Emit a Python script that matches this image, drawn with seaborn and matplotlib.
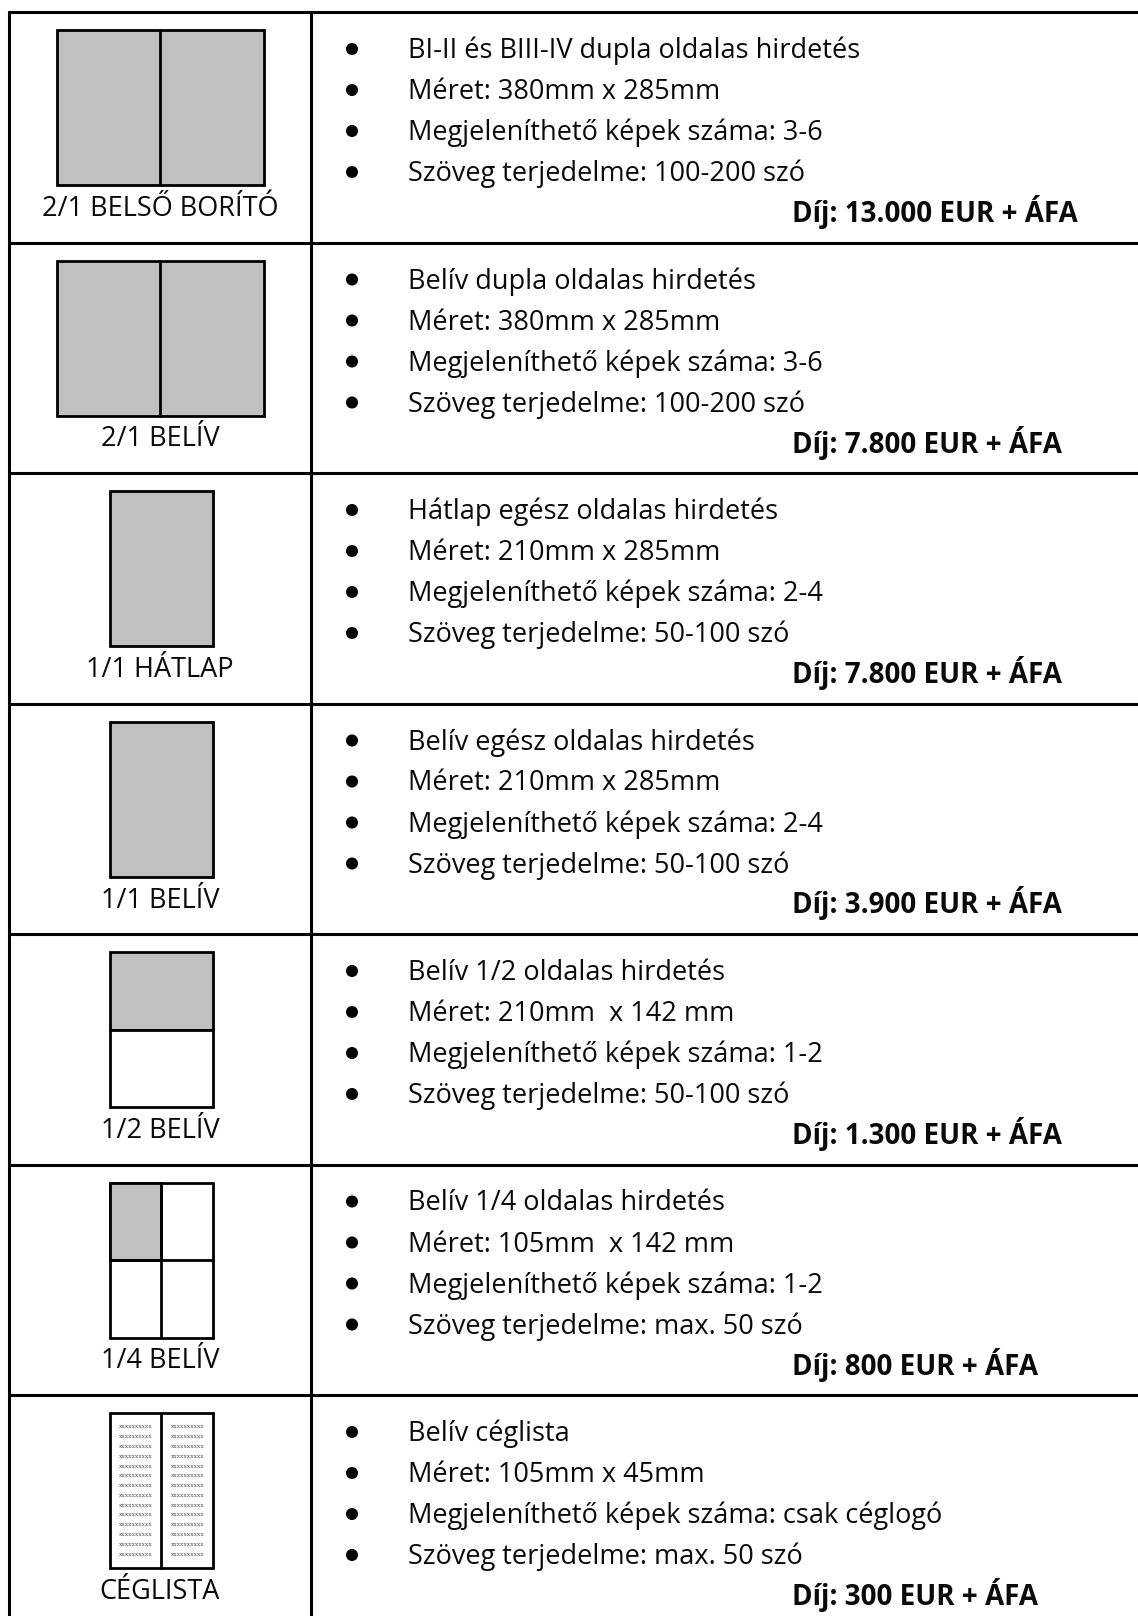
import matplotlib
matplotlib.use("Agg")
import matplotlib.pyplot as plt
import matplotlib.patches as mpatches
import pandas as pd
import seaborn as sns

# Table content
labels = ["2/1 BELSŐ BORÍTÓ", "2/1 BELÍV", "1/1 HÁTLAP", "1/1 BELÍV",
          "1/2 BELÍV", "1/4 BELÍV", "CÉGLISTA"]
icons = ["double", "double", "single", "single", "half", "quarter", "list"]
descriptions = ["BI-II és BIII-IV dupla oldalas hirdetés",
                "Belív dupla oldalas hirdetés",
                "Hátlap egész oldalas hirdetés",
                "Belív egész oldalas hirdetés",
                "Belív 1/2 oldalas hirdetés",
                "Belív 1/4 oldalas hirdetés",
                "Belív céglista"]
sizes = ["380mm x 285mm", "380mm x 285mm", "210mm x 285mm", "210mm x 285mm",
         "210mm  x 142 mm", "105mm  x 142 mm", "105mm x 45mm"]
images = ["3-6", "3-6", "2-4", "2-4", "1-2", "1-2", "csak céglogó"]
words = ["100-200 szó", "100-200 szó", "50-100 szó", "50-100 szó",
         "50-100 szó", "max. 50 szó", "max. 50 szó"]
prices = ["13.000", "7.800", "7.800", "3.900", "1.300", "800", "300"]
list_rows = 14
list_filler = "xxxxxxxxxx"

# Layout (pixels)
W, H = 1138, 1616
TOP, ROW_H = 12, 230.5
LEFT, SPLIT = 9, 311
BULLET_X, TEXT_X, PRICE_X = 352, 408, 792
GRAY = "#c0c0c0"
INK = "#0a0a0a"
FS = 19.5

sns.set_theme(style="white")
plt.rcParams['font.family'] = ['Open Sans', 'DejaVu Sans']

fig = plt.figure(figsize=(W / 100, H / 100), dpi=100)
ax = fig.add_axes([0, 0, 1, 1])


def box(x0, y0, x1, y1, fill):
    ax.add_patch(mpatches.Rectangle((x0, y0), x1 - x0, y1 - y0,
                                    facecolor=fill, edgecolor="black",
                                    linewidth=2.0, zorder=3))


def draw_icon(kind, r):
    y0, y1 = r + 18, r + 173
    ym = (y0 + y1) / 2
    if kind == "double":
        box(57, y0, 264, y1, GRAY)
        ax.plot([160, 160], [y0, y1], color="black", lw=2.0, zorder=4)
    elif kind == "single":
        box(110, y0, 213, y1, GRAY)
    elif kind == "half":
        box(110, y0, 213, ym, GRAY)
        box(110, ym, 213, y1, "white")
    elif kind == "quarter":
        box(110, y0, 213, y1, "white")
        box(110, y0, 161, ym, GRAY)
        ax.plot([161, 161], [y0, y1], color="black", lw=2.0, zorder=4)
        ax.plot([110, 213], [ym, ym], color="black", lw=2.0, zorder=4)
    elif kind == "list":
        box(110, y0, 213, y1, "white")
        ax.plot([161, 161], [y0, y1], color="black", lw=2.0, zorder=4)
        for k in range(list_rows):
            yy = r + 32 + k * (127 / (list_rows - 1))
            for cx in (135.5, 187.5):
                ax.text(cx, yy, list_filler, fontsize=4.2, color="#555555",
                        ha="center", va="center", zorder=5,
                        family=['DejaVu Serif'])


bullet_rows = []
for i, lab in enumerate(labels):
    r = TOP + i * ROW_H
    draw_icon(icons[i], r)
    ax.text(160, r + 197, lab, fontsize=FS, color=INK, ha="center", va="center")
    lines = [descriptions[i], "Méret: " + sizes[i],
             "Megjeleníthető képek száma: " + images[i],
             "Szöveg terjedelme: " + words[i]]
    for j, txt in enumerate(lines):
        y = r + 36 + j * 41
        bullet_rows.append({"x": BULLET_X, "y": y + 1})
        ax.text(TEXT_X, y + 3, txt, fontsize=FS, color=INK, ha="left", va="center")
    ax.text(PRICE_X, r + 200, f"Díj: {prices[i]} EUR + ÁFA", fontsize=20,
            fontweight="bold", color=INK, ha="left", va="center")

bullets = pd.DataFrame(bullet_rows)
sns.scatterplot(data=bullets, x="x", y="y", ax=ax, color="black", s=75,
                edgecolor="none", legend=False, zorder=5)

# Table grid
for i in range(len(labels)):
    y = TOP + i * ROW_H
    ax.plot([LEFT, W], [y, y], color="black", lw=2.2, zorder=2)
ax.plot([LEFT, LEFT], [TOP, H], color="black", lw=2.2, zorder=2)
ax.plot([SPLIT, SPLIT], [TOP, H], color="black", lw=2.2, zorder=2)

ax.set_xlim(0, W)
ax.set_ylim(H, 0)
ax.axis("off")
fig.savefig("out.png", dpi=100, facecolor="white")
